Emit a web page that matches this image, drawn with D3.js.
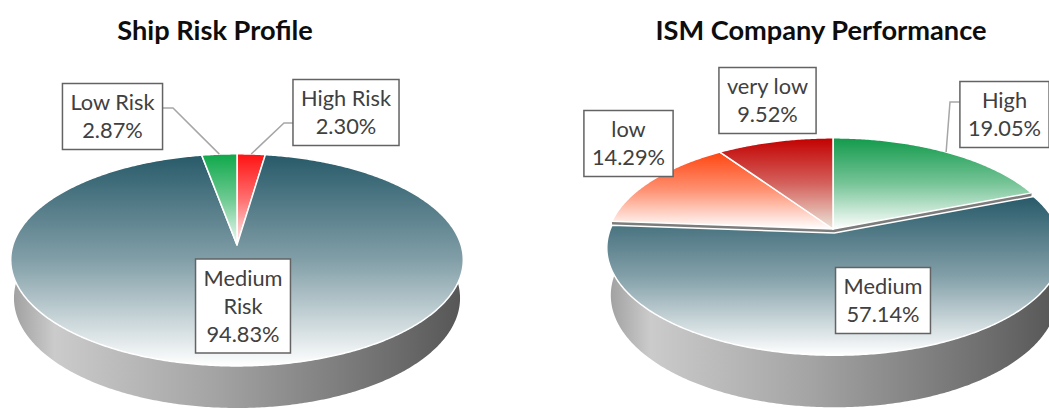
<!DOCTYPE html>
<html>
<head>
<meta charset="utf-8">
<script src="https://cdn.jsdelivr.net/npm/d3@7"></script>
<style>
  body { margin: 0; background: #fff; }
  svg { display: block; }
  text { font-family: Lato, "Open Sans", sans-serif; }
</style>
</head>
<body>
<svg id="chart" width="1049" height="411"></svg>
<script>
// ---- data ----
const shipTitle = "Ship Risk Profile";
const shipNames = ["High Risk", "Medium Risk", "Low Risk"];
const shipValues = [2.30, 94.83, 2.87];

const ismTitle = "ISM Company Performance";
const ismNames = ["High", "Medium", "low", "very low"];
const ismValues = [19.05, 57.14, 14.29, 9.52];

// ---- styles ----
const shipColors = [["#ff1212", "#fff2f2"], ["#285a69", "#ffffff"], ["#0ea84a", "#f2faf5"]];
const ismColors = [["#129a4c", "#ffffff"], ["#285a69", "#ffffff"], ["#ff4510", "#ffffff"], ["#c20000", "#ece6da"]];

// perspective camera (same for both pies)
const F = 1416, D = 6.32, sa = 0.464, ca = 0.886;

var svg = d3.select("#chart");
var defs = svg.append("defs");

function drawPie(cfg) {
  var g = svg.append("g");
  function P(X, Y, Z) {
    var w = D + Y * ca - Z * sa;
    return [cfg.cx + F * X / w, cfg.cy - F * (Y * sa + Z * ca) / w];
  }
  var line = d3.line();
  var data = cfg.names.map((n, i) => ({name: n, value: cfg.values[i], i: i}));
  var arcs = d3.pie().sort(null).value(d => d.value)(data);

  // side gradient
  var sideId = cfg.id + "-side";
  var sg = defs.append("linearGradient").attr("id", sideId)
    .attr("gradientUnits", "userSpaceOnUse")
    .attr("x1", cfg.cx - 228).attr("x2", cfg.cx + 228).attr("y1", 0).attr("y2", 0);
  [[0, "#9c9c9c"], [0.1, "#cbcbcb"], [0.45, "#a4a4a4"], [0.85, "#6c6c6c"], [1, "#555"]]
    .forEach(s => sg.append("stop").attr("offset", s[0]).attr("stop-color", s[1]));

  var faces = [], tops = [];
  arcs.forEach(a => {
    var mid = (a.startAngle + a.endAngle) / 2;
    var e = cfg.explode[a.index] || 0;
    var ox = e * Math.sin(mid), oy = e * Math.cos(mid);
    a.ox = ox; a.oy = oy; a.mid = mid;
    var n = Math.max(2, Math.ceil((a.endAngle - a.startAngle) / 0.01));
    var angs = d3.range(n + 1).map(k => a.startAngle + (a.endAngle - a.startAngle) * k / n);
    var rim = z => angs.map(t => P(ox + Math.sin(t), oy + Math.cos(t), z));
    var topRim = rim(0), botRim = rim(-cfg.h);
    faces.push({pts: topRim.concat(botRim.reverse()), key: oy + d3.mean(angs, t => Math.cos(t)), fill: "url(#" + sideId + ")"});
    [a.startAngle, a.endAngle].forEach(t => {
      faces.push({pts: [P(ox, oy, 0), P(ox + Math.sin(t), oy + Math.cos(t), 0),
                        P(ox + Math.sin(t), oy + Math.cos(t), -cfg.h), P(ox, oy, -cfg.h)],
                  key: oy + Math.cos(t) / 2, fill: "#7c7c7c"});
    });
    var gid = cfg.id + "-top" + a.index;
    var tg = defs.append("linearGradient").attr("id", gid)
      .attr("x1", 0).attr("y1", 0).attr("x2", 0).attr("y2", 1);
    var c = cfg.colors[a.index];
    tg.append("stop").attr("offset", 0).attr("stop-color", c[0]);
    tg.append("stop").attr("offset", 0.5).attr("stop-color", d3.interpolateRgb(c[0], c[1])(0.42));
    tg.append("stop").attr("offset", 1).attr("stop-color", c[1]);
    tops.push({pts: [P(ox, oy, 0)].concat(topRim), fill: "url(#" + gid + ")", e: e});
  });

  faces.sort((p, q) => q.key - p.key);
  g.selectAll("path.side").data(faces).enter().append("path")
    .attr("class", "side")
    .attr("d", d => line(d.pts) + "Z")
    .attr("fill", d => d.fill);

  tops.sort((p, q) => p.e - q.e);
  g.selectAll("path.top").data(tops).enter().append("path")
    .attr("class", "top")
    .attr("d", d => line(d.pts) + "Z")
    .attr("fill", d => d.fill)
    .attr("stroke", "#fff").attr("stroke-width", 1.5).attr("stroke-linejoin", "round");

  // title
  svg.append("text").attr("x", cfg.titleX).attr("y", 40)
    .attr("text-anchor", "middle").attr("font-weight", "bold")
    .attr("font-size", 27.2).attr("fill", "#0d0d0d").text(cfg.title);

  // labels
  cfg.labels.forEach((L, i) => {
    var a = arcs[i];
    if (L.elbow) {
      var end = P(a.ox + Math.sin(a.mid), a.oy + Math.cos(a.mid), 0);
      svg.append("path")
        .attr("d", line([L.attach, L.elbow, end]))
        .attr("fill", "none").attr("stroke", "#a6a6a6").attr("stroke-width", 1.5);
    }
    var lines = L.wrap ? a.data.name.split(" ") : [a.data.name];
    lines.push(a.data.value.toFixed(2) + "%");
    var lg = svg.append("g");
    var rect = lg.append("rect");
    var lh = 28;
    var t = lg.append("text").attr("text-anchor", "middle").attr("font-size", 21.8).attr("fill", "#404040");
    lines.forEach((s, k) => {
      t.append("tspan").attr("x", L.at[0])
        .attr("y", L.at[1] + (k - (lines.length - 1) / 2) * lh + 7.5).text(s);
    });
    var w = d3.max(t.selectAll("tspan").nodes(), nd => nd.getComputedTextLength()) + 16;
    var h = lines.length * lh + 10;
    rect.attr("x", L.at[0] - w / 2).attr("y", L.at[1] - h / 2)
      .attr("width", w).attr("height", h)
      .attr("fill", "#fff").attr("stroke", "#636363").attr("stroke-width", 1.5);
  });
}

drawPie({
  id: "ship", title: shipTitle, titleX: 215,
  names: shipNames, values: shipValues, colors: shipColors,
  cx: 237, cy: 245, h: 0.194, explode: {},
  labels: [
    {at: [346, 112.5], attach: [295, 123], elbow: [284, 123]},
    {at: [243, 306], wrap: true},
    {at: [112.5, 116.5], attach: [163, 108], elbow: [173, 108]}
  ]
});

drawPie({
  id: "ism", title: ismTitle, titleX: 821,
  names: ismNames, values: ismValues, colors: ismColors,
  cx: 833, cy: 229, h: 0.24, explode: {1: 0.038},
  labels: [
    {at: [1004.5, 114.5], attach: [961, 102], elbow: [950, 102]},
    {at: [883, 300.5]},
    {at: [628.5, 143.5]},
    {at: [767.5, 100.5]}
  ]
});
</script>
</body>
</html>
